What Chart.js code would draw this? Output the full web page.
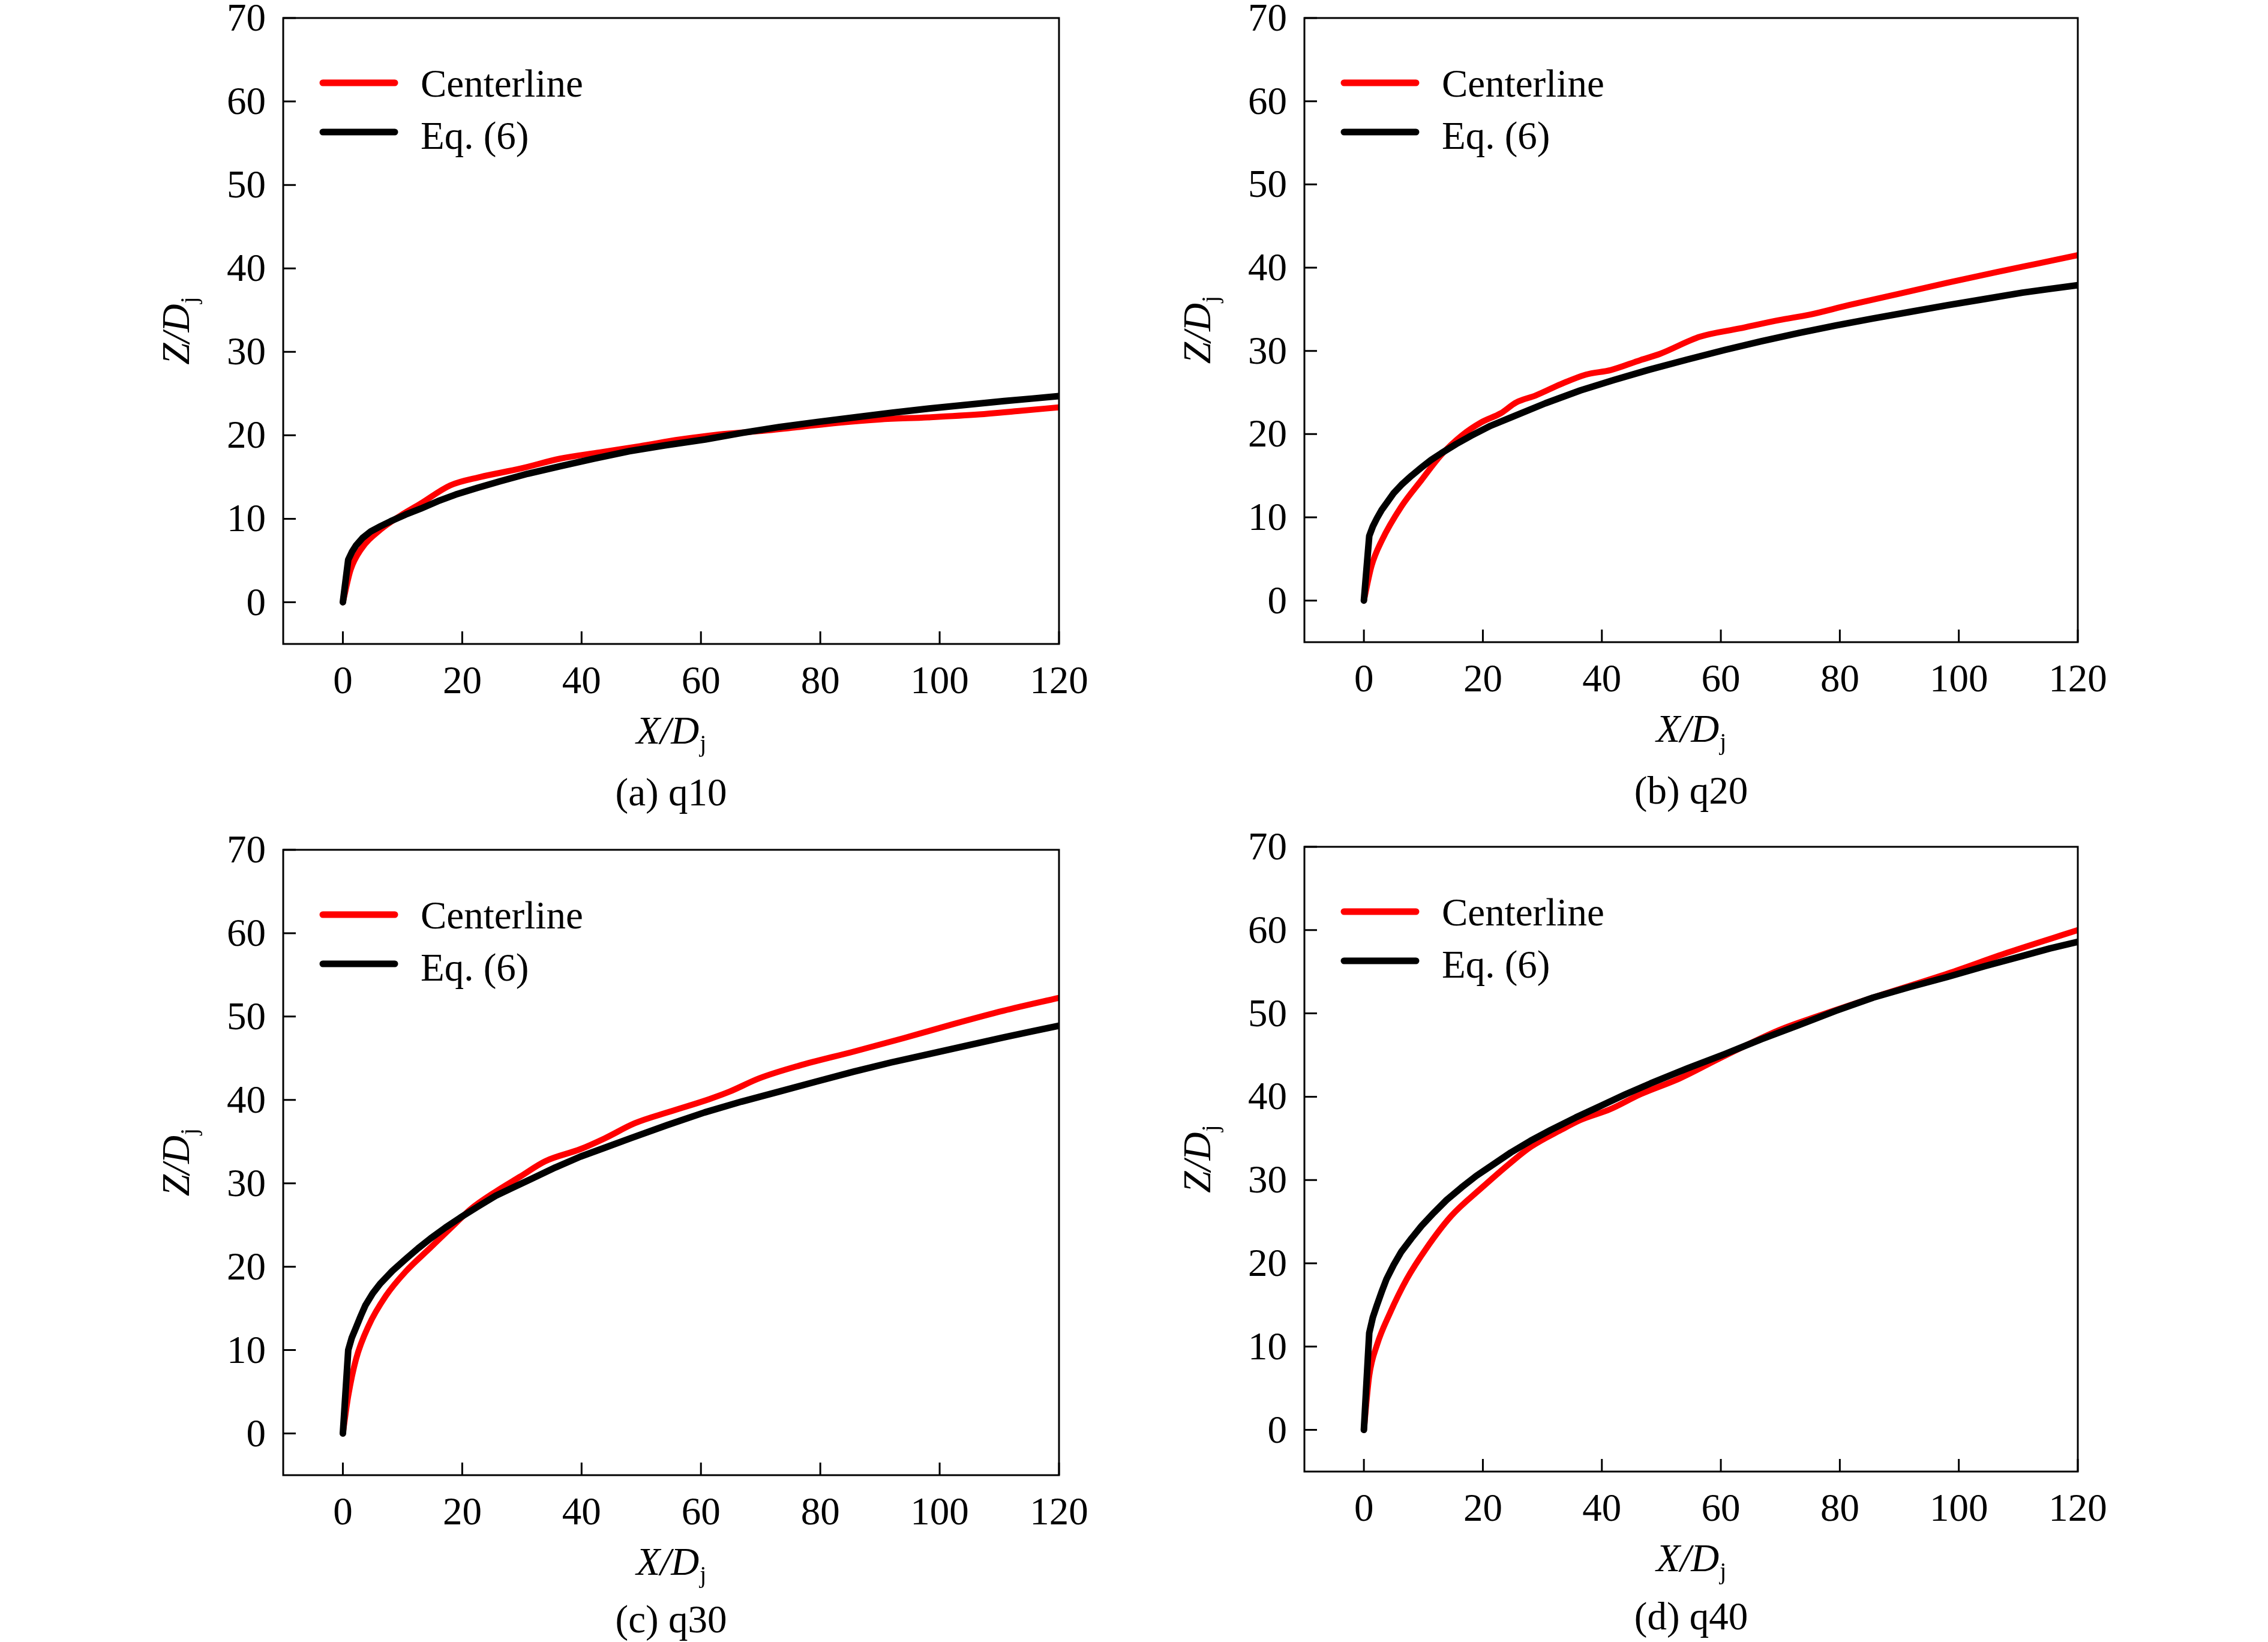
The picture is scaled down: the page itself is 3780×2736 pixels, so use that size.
<!DOCTYPE html>
<html>
<head>
<meta charset="utf-8">
<script src="https://cdn.jsdelivr.net/npm/chart.js@4.4.1/dist/chart.umd.min.js"></script>
<style>
html,body{margin:0;padding:0;background:#fff;width:3780px;height:2736px;overflow:hidden;position:relative;}
canvas{position:absolute;}
</style>
</head>
<body>
<canvas id="pa"></canvas>
<canvas id="pb"></canvas>
<canvas id="pc"></canvas>
<canvas id="pd"></canvas>
<script>
// ---------- data ----------
const xTicks = [0, 20, 40, 60, 80, 100, 120];
const yTicks = [0, 10, 20, 30, 40, 50, 60, 70];
const seriesLabels = ['Centerline', 'Eq. (6)'];
const panelCaptions = ['(a) q10', '(b) q20', '(c) q30', '(d) q40'];

const centerX_a = [0, 1.3, 3, 6.3, 9.7, 13, 18, 23, 29.7, 36.4, 43, 49.8, 56.5, 63, 69.8, 76.5, 83, 89.9, 98, 106.6, 113, 120];
const centerY_a = [0, 3.9, 6.3, 8.7, 10.4, 11.8, 14.0, 15.0, 16.0, 17.2, 17.95, 18.7, 19.5, 20.1, 20.5, 21.0, 21.5, 21.9, 22.15, 22.5, 22.9, 23.35];
const eqX_a = [0, 0.9, 1.5, 2.2, 3.3, 4.7, 6.3, 8, 10.5, 13, 15.9, 18.9, 22.5, 26.4, 31, 36.4, 42, 48, 54, 60.7, 67, 73.2, 79.5, 85.7, 92, 98.2, 104.5, 110.8, 115.5, 120];
const eqY_a = [0, 5.1, 6.0, 6.8, 7.7, 8.5, 9.1, 9.7, 10.5, 11.2, 12.1, 12.9, 13.7, 14.5, 15.4, 16.3, 17.2, 18.1, 18.8, 19.5, 20.3, 21.0, 21.6, 22.15, 22.7, 23.2, 23.65, 24.1, 24.4, 24.7];

const centerX_b = [0, 1.3, 3, 6.3, 9.7, 13, 16.4, 19.7, 23, 25.6, 28.9, 33.1, 37.3, 41.5, 46.5, 49.8, 56.5, 63.2, 69.8, 74.9, 81.5, 89.9, 98.2, 106.6, 113.3, 120];
const centerY_b = [0, 4.2, 7.2, 11.3, 14.5, 17.5, 19.8, 21.4, 22.5, 23.8, 24.65, 26.0, 27.15, 27.7, 28.9, 29.65, 31.7, 32.7, 33.7, 34.35, 35.5, 36.85, 38.2, 39.5, 40.5, 41.5];
const eqX_b = [0, 0.9, 1.5, 2.2, 3, 3.8, 5, 6.3, 8, 9.7, 11.3, 13, 15.5, 18, 21.3, 24.7, 30.5, 36.4, 42, 48, 54.3, 60.6, 66.8, 73.1, 79.3, 85.6, 91.9, 98.2, 104.5, 110.7, 115.3, 120];
const eqY_b = [0, 7.75, 8.9, 9.9, 10.9, 11.7, 12.9, 13.9, 15.0, 16.0, 16.9, 17.7, 18.8, 19.8, 21.0, 22.0, 23.7, 25.25, 26.5, 27.75, 28.95, 30.1, 31.15, 32.15, 33.05, 33.9, 34.7, 35.5, 36.25, 37.0, 37.45, 37.9];

const centerX_c = [0, 0.9, 2.2, 4.3, 7.2, 10.5, 14.7, 18.9, 21.4, 25.6, 29.7, 33.9, 39.8, 43.9, 48.9, 54.8, 61.4, 64.8, 69.8, 76.4, 85.6, 93.9, 102.3, 110.7, 120];
const centerY_c = [0, 4.5, 8.9, 12.9, 16.5, 19.4, 22.3, 25.2, 26.9, 29.0, 30.8, 32.65, 34.1, 35.4, 37.2, 38.6, 40.1, 41.0, 42.6, 44.1, 45.8, 47.4, 49.1, 50.7, 52.25];
const eqX_c = [0, 0.9, 1.5, 2.2, 3, 3.8, 5, 6.3, 8.3, 10.5, 12.6, 14.7, 17.2, 19.7, 22.6, 25.6, 28.5, 31.5, 35.6, 39.8, 44, 48.2, 54.4, 60.6, 66.8, 73.1, 79.3, 85.6, 91.9, 98.2, 104.5, 110.7, 115.3, 120];
const eqY_c = [0, 10.0, 11.5, 12.7, 14.1, 15.4, 16.8, 18.0, 19.5, 20.9, 22.2, 23.4, 24.7, 25.9, 27.2, 28.5, 29.5, 30.5, 31.9, 33.2, 34.3, 35.4, 37.0, 38.5, 39.8, 41.0, 42.2, 43.4, 44.5, 45.5, 46.5, 47.5, 48.2, 48.9];

const centerX_d = [0, 0.9, 2.2, 4.3, 7.2, 10.5, 14.7, 19.7, 24.7, 28.1, 33.1, 36.4, 41.4, 46.5, 53.1, 59.8, 69.8, 76.4, 86.4, 98.2, 108.2, 120];
const centerY_d = [0, 6.5, 10.2, 13.9, 18.1, 21.8, 25.7, 29.0, 32.1, 34.0, 36.0, 37.2, 38.5, 40.3, 42.2, 44.6, 48.0, 49.7, 52.1, 54.8, 57.3, 60.0];
const eqX_d = [0, 0.9, 1.5, 2.2, 3, 3.8, 5, 6.3, 8, 9.7, 11.8, 13.9, 16.4, 18.9, 21.8, 24.7, 28, 31.4, 35.6, 39.8, 44, 48.2, 54.4, 60.6, 66.8, 73.1, 79.3, 85.6, 91.9, 98.2, 104.5, 110.7, 115.3, 120];
const eqY_d = [0, 11.65, 13.5, 15.0, 16.6, 18.1, 19.8, 21.4, 23.0, 24.5, 26.1, 27.6, 29.1, 30.5, 31.9, 33.3, 34.7, 36.0, 37.5, 38.9, 40.3, 41.6, 43.4, 45.1, 46.9, 48.6, 50.3, 51.9, 53.2, 54.4, 55.7, 56.9, 57.8, 58.6];

// ---------- layout / style ----------
const FAMILY = '"Liberation Serif", "Times New Roman", serif';
const FS = 65, SUBFS = 40;
const PAD_L = 472, PAD_T = 30, PAD_R = 100, PAD_B = 300;
const panels = [
  {id: 'pa', L: 472,  R: 1765, T: 30,   B: 1073, capOff: 269, cx: centerX_a, cy: centerY_a, ex: eqX_a, ey: eqY_a, cap: panelCaptions[0]},
  {id: 'pb', L: 2174, R: 3463, T: 30,   B: 1070, capOff: 269, cx: centerX_b, cy: centerY_b, ex: eqX_b, ey: eqY_b, cap: panelCaptions[1]},
  {id: 'pc', L: 472,  R: 1765, T: 1416, B: 2458, capOff: 262, cx: centerX_c, cy: centerY_c, ex: eqX_c, ey: eqY_c, cap: panelCaptions[2]},
  {id: 'pd', L: 2174, R: 3463, T: 1411, B: 2452, capOff: 263, cx: centerX_d, cy: centerY_d, ex: eqX_d, ey: eqY_d, cap: panelCaptions[3]}
];

function pts(xs, ys) { return xs.map((x, i) => ({x: x, y: ys[i]})); }

function drawSubLabel(ctx, main, sub, cx, baseY) {
  ctx.textAlign = 'left';
  ctx.textBaseline = 'alphabetic';
  ctx.font = 'italic ' + FS + 'px ' + FAMILY;
  const w1 = ctx.measureText(main).width;
  ctx.font = SUBFS + 'px ' + FAMILY;
  const w2 = ctx.measureText(sub).width;
  const x0 = cx - (w1 + w2) / 2;
  ctx.font = 'italic ' + FS + 'px ' + FAMILY;
  ctx.fillText(main, x0, baseY);
  ctx.font = SUBFS + 'px ' + FAMILY;
  ctx.fillText(sub, x0 + w1 + 1, baseY + 13);
}

const decorPlugin = {
  id: 'decor',
  afterDraw(chart, args, opts) {
    const ctx = chart.ctx, a = chart.chartArea;
    const xs = chart.scales.x, ys = chart.scales.y;
    ctx.save();
    ctx.fillStyle = '#000';
    ctx.strokeStyle = '#000';
    // frame
    ctx.lineWidth = 3;
    ctx.strokeRect(a.left, a.top, a.right - a.left, a.bottom - a.top);
    // inward tick marks
    ctx.beginPath();
    yTicks.forEach(v => { const p = ys.getPixelForValue(v); ctx.moveTo(a.left, p); ctx.lineTo(a.left + 21, p); });
    xTicks.forEach(v => { const p = xs.getPixelForValue(v); ctx.moveTo(p, a.bottom); ctx.lineTo(p, a.bottom - 21); });
    ctx.stroke();
    // legend
    const rows = [{y: 108, ty: 131}, {y: 190, ty: 218}];
    chart.data.datasets.forEach((ds, i) => {
      const ly = a.top + rows[i].y;
      ctx.beginPath();
      ctx.lineCap = 'round';
      ctx.lineWidth = 11;
      ctx.strokeStyle = ds.borderColor;
      ctx.moveTo(a.left + 66, ly);
      ctx.lineTo(a.left + 186, ly);
      ctx.stroke();
      ctx.fillStyle = '#000';
      ctx.font = FS + 'px ' + FAMILY;
      ctx.textAlign = 'left';
      ctx.textBaseline = 'alphabetic';
      ctx.fillText(ds.label, a.left + 229, a.top + rows[i].ty);
    });
    // axis titles
    const midX = (a.left + a.right) / 2, midY = (a.top + a.bottom) / 2;
    ctx.fillStyle = '#000';
    drawSubLabel(ctx, 'X/D', 'j', midX, a.bottom + 166);
    ctx.save();
    ctx.translate(a.left - 157, midY);
    ctx.rotate(-Math.PI / 2);
    drawSubLabel(ctx, 'Z/D', 'j', 0, 0);
    ctx.restore();
    // caption
    ctx.font = FS + 'px ' + FAMILY;
    ctx.textAlign = 'center';
    ctx.textBaseline = 'alphabetic';
    ctx.fillText(opts.caption, midX, a.bottom + opts.capOff);
    ctx.restore();
  }
};

panels.forEach(p => {
  const c = document.getElementById(p.id);
  const W = PAD_L + (p.R - p.L) + PAD_R;
  const H = PAD_T + (p.B - p.T) + PAD_B;
  c.width = W; c.height = H;
  c.style.width = W + 'px'; c.style.height = H + 'px';
  c.style.left = (p.L - PAD_L) + 'px';
  c.style.top = (p.T - PAD_T) + 'px';
  new Chart(c, {
    type: 'line',
    data: {
      datasets: [
        {label: seriesLabels[0], data: pts(p.cx, p.cy), borderColor: '#ff0000', borderWidth: 10, order: 2,
         pointRadius: 0, fill: false, cubicInterpolationMode: 'monotone', borderCapStyle: 'round', borderJoinStyle: 'round'},
        {label: seriesLabels[1], data: pts(p.ex, p.ey), borderColor: '#000000', borderWidth: 11, order: 1,
         pointRadius: 0, fill: false, tension: 0, borderCapStyle: 'round', borderJoinStyle: 'round'}
      ]
    },
    options: {
      responsive: false,
      animation: false,
      devicePixelRatio: 1,
      layout: {padding: {top: PAD_T, right: PAD_R, left: 0, bottom: 0}},
      plugins: {legend: {display: false}, tooltip: {enabled: false}, decor: {caption: p.cap, capOff: p.capOff}},
      scales: {
        x: {
          type: 'linear', min: -10, max: 120,
          afterBuildTicks: s => { s.ticks = xTicks.map(v => ({value: v})); },
          afterFit: s => { s.height = PAD_B; s.paddingLeft = 0; s.paddingRight = 0; s.paddingTop = 0; s.paddingBottom = 0; },
          grid: {display: false, drawTicks: false},
          border: {display: false},
          ticks: {color: '#000', font: {family: FAMILY, size: FS}, padding: 26, maxRotation: 0, autoSkip: false}
        },
        y: {
          type: 'linear', min: -5, max: 70,
          afterBuildTicks: s => { s.ticks = yTicks.map(v => ({value: v})); },
          afterFit: s => { s.width = PAD_L; s.paddingLeft = 0; s.paddingRight = 0; s.paddingTop = 0; s.paddingBottom = 0; },
          grid: {display: false, drawTicks: false},
          border: {display: false},
          ticks: {color: '#000', font: {family: FAMILY, size: FS}, padding: 29, labelOffset: 4, autoSkip: false}
        }
      }
    },
    plugins: [decorPlugin]
  });
});
</script>
</body>
</html>
